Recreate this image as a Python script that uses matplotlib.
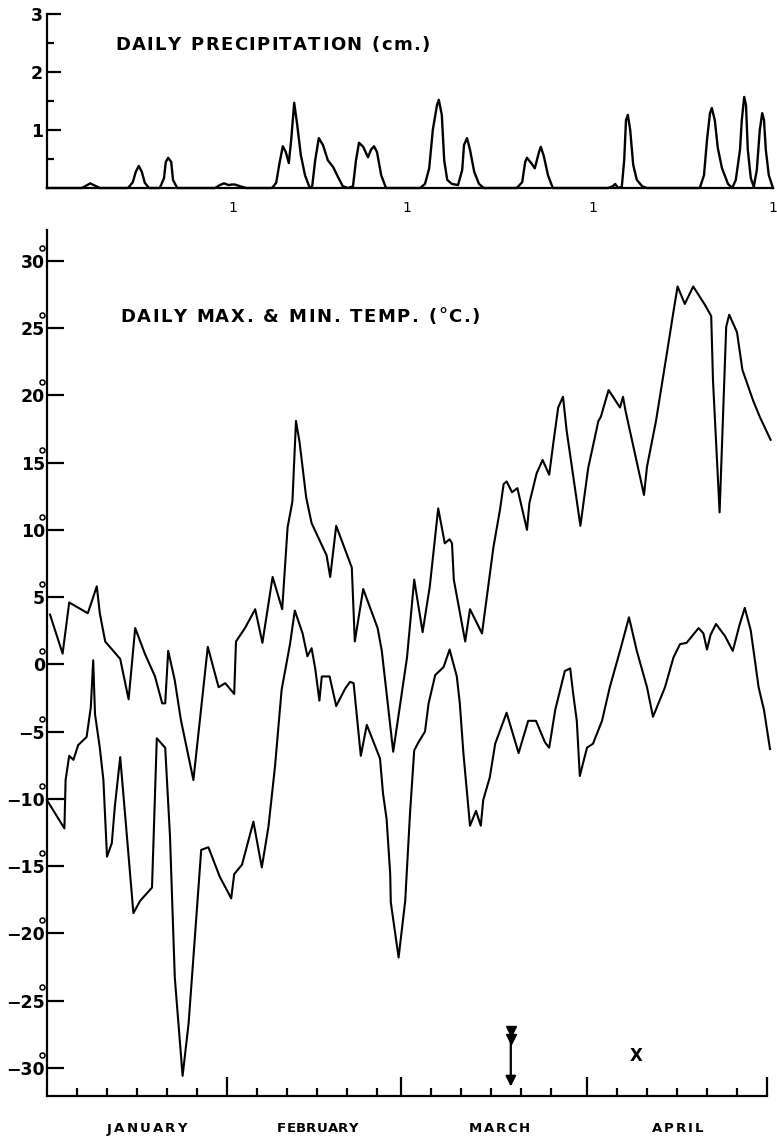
import numpy as np
import matplotlib
matplotlib.use("Agg")
import matplotlib.pyplot as plt

W, H = 777, 1139
plt.rcParams.update({"font.family": "DejaVu Sans", "axes.linewidth": 1.6})

# ---- data: day of season (0 = 1 Jan) ----
month_edges = [0, 30, 59, 90, 120]
month_names = ["JANUARY", "FEBRUARY", "MARCH", "APRIL"]

rain_day = [
    -1.0, 4.8, 5.7, 6.2, 6.8, 7.8,
    12.5, 13.3, 13.8, 14.3, 14.8, 15.3, 16.0,
    17.8, 18.5, 18.8, 19.2, 19.7, 20.0, 20.7,
    27.0, 27.8, 28.5, 29.3, 29.8, 30.3, 31.2, 32.2,
    36.5, 37.2, 37.7, 38.3, 38.8, 39.3, 39.7, 40.2, 40.7, 41.3, 42.0, 42.8,
    43.2, 43.7, 44.3, 45.0, 45.8, 46.7, 47.5, 48.3, 49.2,
    50.0, 50.5, 51.0, 51.7, 52.5, 53.0, 53.5, 54.0, 54.7, 55.5,
    61.2, 62.0, 62.7, 63.3, 64.0, 64.3, 64.8, 65.2, 65.7, 66.5, 67.5, 68.2, 68.5, 69.0,
    69.5, 70.2, 71.0, 71.8,
    77.3, 78.2, 78.7, 79.0, 79.7, 80.3, 81.0, 81.3, 81.8, 82.5, 83.3,
    92.5, 93.3, 93.7, 94.2, 94.8, 95.2, 95.5, 95.8, 96.2, 96.7, 97.3, 98.2, 99.0,
    107.8, 108.5, 109.0, 109.5, 109.8, 110.3, 110.8, 111.5, 112.5, 113.2,
    113.8, 114.5, 114.8, 115.2, 115.5, 115.8, 116.3, 116.8, 117.3, 117.8, 118.2, 118.5,
    118.8, 119.3, 120.0]
rain_cm = [
    0, 0, 0.05, 0.08, 0.05, 0,
    0, 0.10, 0.28, 0.38, 0.28, 0.09, 0,
    0, 0.17, 0.45, 0.52, 0.45, 0.14, 0,
    0, 0.05, 0.08, 0.05, 0.06, 0.06, 0.03, 0,
    0, 0.09, 0.40, 0.72, 0.62, 0.43, 0.83, 1.47, 1.09, 0.57, 0.22, 0,
    0.03, 0.48, 0.86, 0.74, 0.48, 0.36, 0.19, 0.03, 0,
    0.03, 0.48, 0.78, 0.71, 0.53, 0.66, 0.72, 0.62, 0.22, 0,
    0, 0.07, 0.34, 1.00, 1.43, 1.52, 1.26, 0.48, 0.14, 0.07, 0.05, 0.31, 0.74, 0.86,
    0.66, 0.28, 0.07, 0,
    0, 0.10, 0.45, 0.52, 0.43, 0.34, 0.62, 0.71, 0.55, 0.22, 0,
    0, 0.03, 0.07, 0, 0.02, 0.48, 1.17, 1.26, 1.00, 0.40, 0.14, 0.03, 0,
    0, 0.22, 0.83, 1.29, 1.38, 1.17, 0.69, 0.34, 0.07, 0,
    0.14, 0.66, 1.17, 1.57, 1.43, 0.66, 0.17, 0.02, 0.31, 1.00, 1.29, 1.17,
    0.66, 0.22, 0]

tmax_day = [0.5, 2.6, 3.7, 6.8, 8.3, 8.8, 9.7, 12.2, 13.6, 14.7,
            16.3, 18.0, 19.2, 19.7, 20.2, 21.3, 22.3, 24.4, 26.8, 28.6,
            29.7, 31.2, 31.5, 33.0, 34.7, 35.9, 37.6, 39.2, 40.1, 40.9,
            41.5, 42.1, 43.2, 44.1, 46.6, 47.2, 48.2, 50.8, 51.3, 52.7,
            55.1, 55.8, 57.7, 60.0, 61.2, 62.6, 63.8, 65.2, 66.3, 67.1,
            67.5, 67.8, 69.7, 70.5, 72.5, 74.4, 75.5, 76.1, 76.6, 77.5,
            78.4, 80.0, 80.4, 81.6, 82.6, 83.7, 84.4, 85.2, 86.0, 86.6,
            88.9, 90.2, 91.9, 92.3, 93.6, 95.5, 96.0, 96.4, 99.5, 100.0,
            101.5, 103.3, 104.4, 105.1, 106.3, 107.7, 109.7, 110.7, 111.0, 112.1,
            113.2, 113.7, 115.0, 115.9, 117.7, 118.8, 120.6]
tmax_c = [3.7, 0.8, 4.6, 3.8, 5.8, 3.8, 1.7, 0.4, -2.6, 2.7,
          0.8, -0.9, -2.9, -2.9, 1.0, -1.2, -4.1, -8.6, 1.3, -1.7,
          -1.4, -2.2, 1.7, 2.7, 4.1, 1.6, 6.5, 4.1, 10.2, 12.1,
          18.1, 16.5, 12.4, 10.5, 8.1, 6.5, 10.3, 7.2, 1.7, 5.6,
          2.7, 1.0, -6.5, 0.5, 6.3, 2.4, 5.8, 11.6, 9.0, 9.3,
          9.0, 6.3, 1.7, 4.1, 2.3, 8.7, 11.5, 13.4, 13.6, 12.8,
          13.1, 10.0, 12.0, 14.2, 15.2, 14.1, 16.5, 19.1, 19.9, 17.4,
          10.3, 14.6, 18.1, 18.4, 20.4, 19.1, 19.9, 18.9, 12.6, 14.7,
          18.1, 23.1, 26.2, 28.1, 26.8, 28.1, 26.7, 25.9, 21.1, 11.3,
          25.1, 26.0, 24.7, 21.9, 19.6, 18.4, 16.7]

tmin_day = [0.0, 2.9, 3.1, 3.7, 4.4, 5.2, 6.6, 7.3, 7.7, 8.0,
            8.8, 9.4, 10.0, 10.8, 11.3, 12.2, 13.0, 14.4, 15.5, 17.5,
            18.3, 19.7, 20.5, 21.3, 22.6, 23.6, 24.4, 25.7, 26.9, 28.8,
            30.7, 31.2, 32.5, 34.4, 35.8, 36.9, 38.0, 39.1, 40.5, 41.3,
            42.6, 43.4, 44.1, 44.7, 45.4, 45.8, 47.1, 48.2, 49.7, 50.5,
            51.1, 52.3, 53.3, 55.5, 56.0, 56.6, 57.2, 57.3, 58.6, 59.7,
            60.5, 61.2, 61.9, 63.0, 63.6, 64.7, 66.1, 67.1, 68.3, 68.8,
            69.4, 70.5, 71.5, 72.3, 72.7, 73.8, 74.7, 76.6, 78.6, 80.2,
            81.5, 83.0, 83.7, 84.7, 86.3, 87.2, 87.7, 88.3, 88.8, 90.0,
            91.0, 92.5, 93.8, 95.5, 97.0, 98.3, 100.0, 101.0, 103.0, 104.4,
            105.5, 106.6, 108.6, 109.4, 110.0, 110.6, 111.5, 113.0, 114.3, 115.4,
            116.3, 117.3, 118.6, 119.5, 120.5]
tmin_c = [-10.1, -12.2, -8.6, -6.8, -7.1, -6.0, -5.4, -3.2, 0.3, -3.7,
          -6.2, -8.6, -14.3, -13.3, -10.6, -6.9, -11.1, -18.5, -17.6, -16.6,
          -5.5, -6.2, -12.8, -23.3, -30.6, -26.7, -21.8, -13.8, -13.6, -15.8,
          -17.4, -15.6, -14.9, -11.7, -15.1, -12.1, -7.6, -1.9, 1.5, 4.0,
          2.3, 0.6, 1.2, -0.3, -2.7, -0.9, -0.9, -3.1, -1.8, -1.3,
          -1.4, -6.8, -4.5, -7.0, -9.6, -11.5, -15.6, -17.7, -21.8, -17.6,
          -11.1, -6.4, -5.8, -5.0, -2.9, -0.8, -0.2, 1.1, -0.9, -2.9,
          -6.6, -12.0, -10.9, -12.0, -10.1, -8.4, -5.9, -3.6, -6.6, -4.2,
          -4.2, -5.8, -6.2, -3.4, -0.5, -0.3, -2.2, -4.2, -8.3, -6.2,
          -5.9, -4.2, -1.7, 1.0, 3.5, 1.0, -1.7, -3.9, -1.7, 0.5,
          1.5, 1.6, 2.7, 2.3, 1.1, 2.2, 3.0, 2.1, 1.0, 2.9,
          4.2, 2.5, -1.7, -3.4, -6.3]

arrow_day, arrow_top, arrow_tip = 77.3, -27.3, -31.4
cross_day, cross_c = 98.2, -29.1

temp_ticks = list(range(-30, 31, 5))

fig = plt.figure(figsize=(W / 100, H / 100), dpi=100)


def px_axes(left, right, top, bottom):
    return fig.add_axes([left / W, 1 - bottom / H, (right - left) / W, (bottom - top) / H])


def spaced(x0, x1, y, s, space=6.0, **kw):
    """Letter-spaced caption spread evenly between pixel columns x0..x1."""
    r = fig.canvas.get_renderer()
    widths = []
    for ch in s:
        if ch == " ":
            widths.append(space)
            continue
        t = fig.text(0, 0, ch, **kw)
        widths.append(t.get_window_extent(r).width)
        t.remove()
    track = (x1 - x0 - sum(widths)) / (len(s) - 1)
    x = x0
    for ch, w in zip(s, widths):
        if ch != " ":
            fig.text(x / W, 1 - y / H, ch, ha="left", va="center", **kw)
        x += w + track


def strip(ax):
    for side in ("top", "right"):
        ax.spines[side].set_visible(False)


# ---- precipitation ----
ax_p = px_axes(47, 773, 14, 188)
strip(ax_p)
ax_p.plot(rain_day, rain_cm, color="k", lw=1.7, solid_joinstyle="round", clip_on=False)
ax_p.set_xlim(-1, 120)
ax_p.set_ylim(0, 3)
ax_p.set_yticks([1, 2, 3], labels=["1", "2", "3"], fontweight="bold")
ax_p.set_yticks([0.5, 1.5, 2.5], minor=True)
ax_p.tick_params(axis="y", which="major", direction="in", length=10, width=1.6,
                 labelsize=12.5, pad=3)
ax_p.tick_params(axis="y", which="minor", direction="in", length=5, width=1.6)
ax_p.set_xticks(month_edges[1:], labels=["1"] * 4)
ax_p.tick_params(axis="x", length=0, labelsize=10, pad=9)
ax_p.patch.set_visible(False)

# ---- daily max & min temperature ----
ax_t = px_axes(47, 767, 230, 1096)
strip(ax_t)
ax_t.plot(tmax_day, tmax_c, color="k", lw=1.5, solid_joinstyle="round", clip_on=False)
ax_t.plot(tmin_day, tmin_c, color="k", lw=1.5, solid_joinstyle="round", clip_on=False)
ax_t.set_xlim(0, 120)
ax_t.set_ylim(-32.1, 32.3)
ax_t.set_yticks(temp_ticks, labels=[str(v) if v >= 0 else "\u2212" + str(-v) for v in temp_ticks],
                fontweight="bold")
ax_t.tick_params(axis="y", direction="in", length=12, width=1.6, labelsize=12.5, pad=1.5)
ax_t.set_xticks(month_edges[1:], labels=[])
ax_t.set_xticks([m + k for m in month_edges[:-1] for k in (5, 10, 15, 20, 25)], minor=True)
ax_t.tick_params(axis="x", which="major", direction="in", length=14, width=1.6)
ax_t.tick_params(axis="x", which="minor", direction="in", length=6, width=1.6)

# degree circles riding on the temperature tick labels
ax_t.plot(np.full(len(temp_ticks), -0.9), np.array(temp_ticks) + 0.97, "o", ms=3.6,
          mfc="white", mec="k", mew=1.1, clip_on=False)

# month names under the axis
name_spans = [(107, 187), (277, 358), (469, 530), (652, 703)]
for name, (a, b) in zip(month_names, name_spans):
    spaced(a, b, 1129, name, fontsize=9.5, fontweight="bold")

# markers near the date axis
ax_t.annotate("", xy=(arrow_day, arrow_tip), xytext=(arrow_day, arrow_top),
              arrowprops=dict(arrowstyle="-|>", color="k", lw=1.6, mutation_scale=15,
                              shrinkA=0, shrinkB=0))
ax_t.plot([arrow_day, arrow_day], [arrow_top + 0.05, arrow_top - 0.55], "v", ms=6.5,
          color="k", clip_on=False)
ax_t.text(cross_day, cross_c, "X", ha="center", va="center", fontsize=12, fontweight="bold")

# panel captions
spaced(115, 430, 45, "DAILY PRECIPITATION (cm.)", space=7, fontsize=13, fontweight="bold")
spaced(120, 480, 317, "DAILY MAX. & MIN. TEMP. (\u00b0C.)", space=7, fontsize=13,
       fontweight="bold")

fig.savefig("out.png", dpi=100)
